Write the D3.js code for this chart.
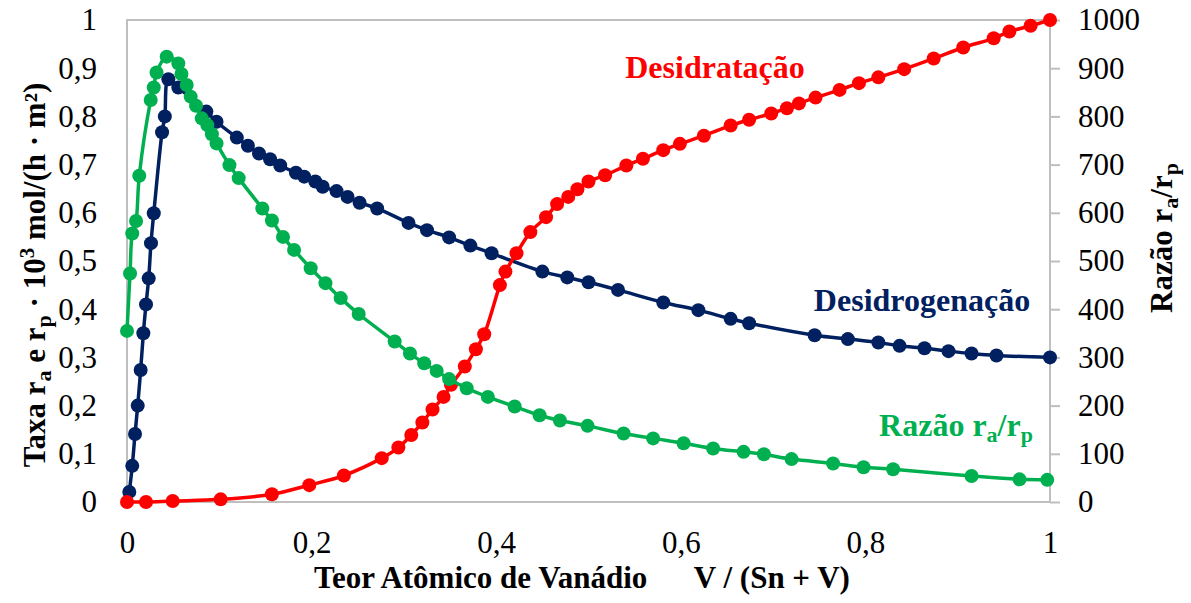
<!DOCTYPE html>
<html>
<head>
<meta charset="utf-8">
<script src="https://cdn.jsdelivr.net/npm/d3@7.9.0/dist/d3.min.js"></script>
</head>
<body style="margin:0">
<svg id="chart" width="1191" height="603"></svg>
<script>
// Desidrogenação (left axis)
const blueX = [0.0025,0.0057,0.0087,0.0116,0.0148,0.0177,0.0206,0.0235,0.026,0.029,0.038,0.041,0.0448,0.0556,0.086,0.097,0.119,0.131,0.143,0.155,0.166,0.183,0.192,0.204,0.212,0.227,0.239,0.252,0.271,0.305,0.325,0.349,0.372,0.395,0.45,0.477,0.50,0.532,0.581,0.619,0.654,0.674,0.745,0.781,0.814,0.837,0.864,0.89,0.915,0.942,1.0];
const blueY = [0.021,0.075,0.141,0.2,0.274,0.35,0.41,0.464,0.537,0.599,0.767,0.80,0.877,0.86,0.81,0.789,0.756,0.739,0.723,0.711,0.698,0.683,0.675,0.665,0.654,0.645,0.633,0.621,0.609,0.579,0.564,0.549,0.532,0.516,0.478,0.466,0.456,0.44,0.414,0.398,0.38,0.371,0.346,0.338,0.331,0.324,0.319,0.313,0.308,0.304,0.30];

// Desidratação (left axis)
const redX = [0,0.0206,0.0495,0.1015,0.157,0.1975,0.235,0.276,0.294,0.308,0.32,0.331,0.343,0.351,0.366,0.378,0.387,0.404,0.41,0.422,0.437,0.454,0.466,0.478,0.488,0.50,0.518,0.541,0.559,0.581,0.599,0.625,0.654,0.674,0.698,0.715,0.728,0.746,0.772,0.793,0.814,0.842,0.874,0.906,0.939,0.956,0.979,1.0];
const redY = [0,0,0.002,0.0055,0.016,0.035,0.055,0.091,0.113,0.139,0.165,0.192,0.218,0.243,0.281,0.317,0.348,0.45,0.478,0.516,0.56,0.591,0.618,0.633,0.649,0.665,0.678,0.698,0.712,0.73,0.743,0.76,0.781,0.793,0.806,0.817,0.827,0.839,0.855,0.869,0.881,0.898,0.92,0.943,0.962,0.976,0.988,1.0];

// Razão ra/rp (right axis)
const greenX = [0,0.0033,0.0057,0.0098,0.0133,0.0257,0.029,0.032,0.043,0.0556,0.059,0.0647,0.069,0.0748,0.081,0.087,0.092,0.097,0.111,0.121,0.1466,0.157,0.169,0.181,0.199,0.215,0.2315,0.251,0.29,0.3066,0.322,0.3355,0.349,0.368,0.391,0.42,0.447,0.469,0.499,0.538,0.570,0.603,0.635,0.668,0.69,0.72,0.765,0.798,0.830,0.915,0.967,0.997];
const greenY = [355,474,557,583,677,834,860,891,924,910,888,865,841,822,796,782,763,744,699,672,609,584,550,523,485,454,423,390,333,308,288,272,255,236,218,198,180,169,158,142,132,122,111,104,99,89,80,72,68,54,47,46];

const xTicks = [0, 0.2, 0.4, 0.6, 0.8, 1];
const leftTicks = [0,0.1,0.2,0.3,0.4,0.5,0.6,0.7,0.8,0.9,1];
const rightTicks = [0,100,200,300,400,500,600,700,800,900,1000];

const margin = { top: 20, right: 141, bottom: 101, left: 127 };
const width = 1191, height = 603;
const fontName = ['Liberation', 'Serif'].join(' ');
const serif = `'${fontName}'`;
const svg = d3.select('#chart');

const x = d3.scaleLinear().domain([0, 1]).range([margin.left, width - margin.right]);
const yL = d3.scaleLinear().domain([0, 1]).range([height - margin.bottom, margin.top]);
const yR = d3.scaleLinear().domain([0, 1000]).range([height - margin.bottom, margin.top]);

const fmt = (d) => String(d).replace('.', ',');

// plot border
svg.append('rect')
  .attr('x', margin.left).attr('y', margin.top)
  .attr('width', width - margin.left - margin.right)
  .attr('height', height - margin.bottom - margin.top)
  .attr('fill', 'none').attr('stroke', '#BFBFBF').attr('stroke-width', 2);

// axes
const xAxis = svg.append('g')
  .attr('transform', `translate(0, ${height - margin.bottom})`)
  .call(d3.axisBottom(x).tickValues(xTicks).tickFormat(fmt).tickSize(0).tickPadding(29));

const leftAxis = svg.append('g')
  .attr('transform', `translate(${margin.left}, 0)`)
  .call(d3.axisLeft(yL).tickValues(leftTicks).tickFormat(fmt).tickSize(0).tickPadding(30));

const rightAxis = svg.append('g')
  .attr('transform', `translate(${width - margin.right}, 0)`)
  .call(d3.axisRight(yR).tickValues(rightTicks).tickFormat(d3.format('d')).tickSize(10).tickPadding(18));

[xAxis, leftAxis, rightAxis].forEach((g) => {
  g.attr('font-family', null).attr('font-size', null);
  g.select('.domain').remove();
  g.selectAll('.tick line').attr('stroke', '#BFBFBF').attr('stroke-width', 2);
  g.selectAll('.tick text')
    .attr('fill', '#000')
    .attr('font-family', serif)
    .attr('font-size', 31);
});

// series
function drawSeries(xs, ys, yScale, color) {
  const pts = xs.map((d, i) => [d, ys[i]]);
  const line = d3.line()
    .x((d) => x(d[0]))
    .y((d) => yScale(d[1]))
    .curve(d3.curveCatmullRom.alpha(0.5));
  const g = svg.append('g');
  g.append('path')
    .datum(pts)
    .attr('d', line)
    .attr('fill', 'none')
    .attr('stroke', color)
    .attr('stroke-width', 3.5);
  g.selectAll('circle')
    .data(pts)
    .join('circle')
    .attr('cx', (d) => x(d[0]))
    .attr('cy', (d) => yScale(d[1]))
    .attr('r', 7)
    .attr('fill', color);
}

drawSeries(blueX, blueY, yL, '#002060');
drawSeries(redX, redY, yL, '#FF0000');
drawSeries(greenX, greenY, yR, '#00B050');

function boldText(sel) {
  return sel.attr('font-family', serif).attr('font-weight', 'bold');
}

// series labels
boldText(svg.append('text'))
  .attr('x', 715).attr('y', 78)
  .attr('text-anchor', 'middle')
  .attr('fill', '#FF0000').attr('font-size', 32)
  .text('Desidratação');

boldText(svg.append('text'))
  .attr('x', 922).attr('y', 311)
  .attr('text-anchor', 'middle')
  .attr('fill', '#002060').attr('font-size', 32)
  .text('Desidrogenação');

const rz = boldText(svg.append('text'))
  .attr('x', 956).attr('y', 436)
  .attr('text-anchor', 'middle')
  .attr('fill', '#00B050').attr('font-size', 32);
rz.append('tspan').text('Razão r');
rz.append('tspan').attr('dy', 6).attr('font-size', 22).text('a');
rz.append('tspan').attr('dy', -6).text('/r');
rz.append('tspan').attr('dy', 6).attr('font-size', 22).text('p');

// axis titles
boldText(svg.append('text'))
  .attr('x', 582).attr('y', 588)
  .attr('text-anchor', 'middle')
  .attr('fill', '#000').attr('font-size', 31)
  .text('Teor Atômico de Vanádio\u00a0\u00a0\u00a0\u00a0\u00a0\u00a0V / (Sn + V)');

const lt = boldText(svg.append('text'))
  .attr('transform', 'translate(45, 275) rotate(-90)')
  .attr('text-anchor', 'middle')
  .attr('fill', '#000').attr('font-size', 31);
lt.append('tspan').text('Taxa r');
lt.append('tspan').attr('dy', 6).attr('font-size', 22).text('a');
lt.append('tspan').attr('dy', -6).text(' e r');
lt.append('tspan').attr('dy', 6).attr('font-size', 22).text('p');
lt.append('tspan').attr('dy', -6).text(' · 10');
lt.append('tspan').attr('dy', -11).attr('font-size', 21).text('3');
lt.append('tspan').attr('dy', 11).text(' mol/(h · m²)');

const rt = boldText(svg.append('text'))
  .attr('transform', 'translate(1172, 238) rotate(-90)')
  .attr('text-anchor', 'middle')
  .attr('fill', '#000').attr('font-size', 31);
rt.append('tspan').text('Razão r');
rt.append('tspan').attr('dy', 6).attr('font-size', 22).text('a');
rt.append('tspan').attr('dy', -6).text('/r');
rt.append('tspan').attr('dy', 6).attr('font-size', 22).text('p');
</script>
</body>
</html>
